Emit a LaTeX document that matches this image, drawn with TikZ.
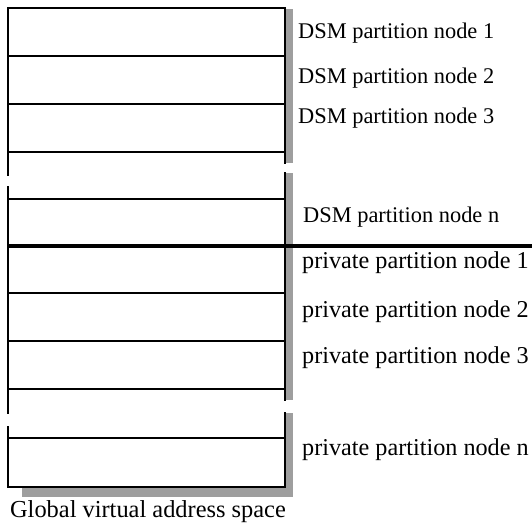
\documentclass[tikz,border=0pt]{standalone}
\usepackage{fontspec}
\setmainfont{Liberation Serif}
\begin{document}
\begin{tikzpicture}[x=1pt,y=-1pt,
  wall/.style={line width=2.9pt, line cap=rect},
  divider/.style={line width=2.7pt},
  splitter/.style={line width=3.8pt},
  shade/.style={fill=black!38, draw=none},
  dsmlbl/.style={anchor=base west, inner sep=0pt, font=\fontsize{22.4}{26}\selectfont},
  privlbl/.style={anchor=base west, inner sep=0pt, font=\fontsize{24.2}{28}\selectfont},
  caption/.style={anchor=base, inner sep=0pt, font=\fontsize{24.4}{28}\selectfont}]
\useasboundingbox (0,0) rectangle (532,523);

% drop shadow along the right side and under the column
\fill[shade] (286,9) rectangle (293,163);
\fill[shade] (286,173) rectangle (293,400);
\fill[shade] (286,413) rectangle (293,497);
\fill[shade] (22,488) rectangle (293,497);

% corner points of the column
\coordinate (tl) at (8,8);
\coordinate (tr) at (285,8);
\coordinate (bl) at (8,487);
\coordinate (br) at (285,487);

% outer walls, broken where rows are elided
\draw[wall] (tl) -- (tr);
\draw[wall] (bl) -- (br);
\draw[wall] (tl) -- (8,175);
\draw[wall] (8,187) -- (8,413);
\draw[wall] (8,427) -- (bl);
\draw[wall] (tr) -- (285,163);
\draw[wall] (285,173) -- (285,400);
\draw[wall] (285,413) -- (br);

% row boundaries
\foreach \y in {56,104,152,199,293,341,389,438}
  \draw[divider] (8,\y) -- (285,\y);

% boundary between DSM and private partitions
\coordinate (sepL) at (8,246);
\coordinate (sepR) at (532,246);
\draw[splitter] (sepL) -- (sepR);

% row labels
\node[dsmlbl] (d1) at (298,38)  {DSM partition node 1};
\node[dsmlbl] (d2) at (298,83)  {DSM partition node 2};
\node[dsmlbl] (d3) at (298,123) {DSM partition node 3};
\node[dsmlbl] (dn) at (303,222) {DSM partition node n};
\node[privlbl] (p1) at (302,268) {private partition node 1};
\node[privlbl] (p2) at (302,317) {private partition node 2};
\node[privlbl] (p3) at (302,363) {private partition node 3};
\node[privlbl] (pn) at (302,455) {private partition node n};

\node[caption] (cap) at (148,517) {Global virtual address space};
\end{tikzpicture}
\end{document}
